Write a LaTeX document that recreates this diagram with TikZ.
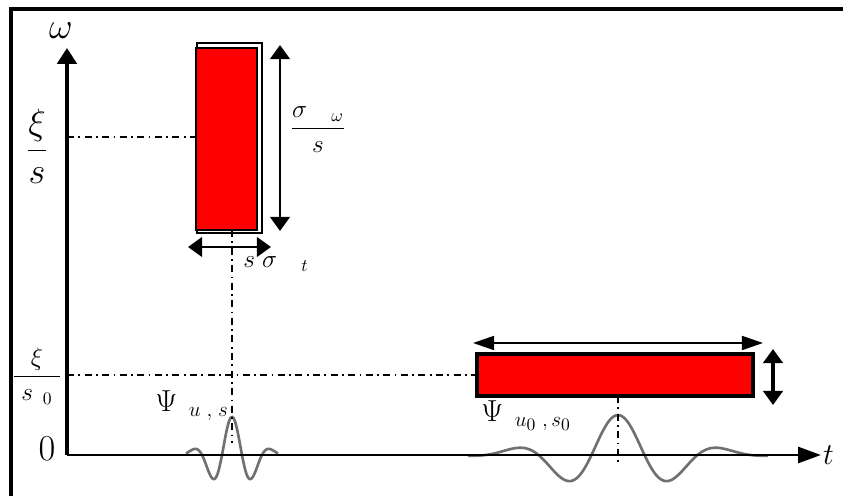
\documentclass[tikz,border=0pt]{standalone}
\usetikzlibrary{arrows.meta}
\begin{document}
\begin{tikzpicture}[x=0.02cm, y=-0.02cm,
    axis/.style={line width=2pt, -{Triangle[length=9pt, width=11pt]}},
    spread/.style={line width=1.7pt, {Triangle[length=8pt, width=11pt]}-{Triangle[length=8pt, width=11pt]}},
    dashdot/.style={line width=1.2pt, dash pattern=on 4pt off 2.5pt on 1pt off 2.5pt},
    redbox/.style={draw=borderColour, fill=boxColour, line width=1.4pt, inner sep=0pt, outer sep=0pt},
    wave/.style={waveColour, line width=1.5pt, smooth, samples=120}]
    % Define colours
    \definecolor{borderColour}{HTML}{000000}
    \definecolor{boxColour}{HTML}{FF0000}
    \definecolor{waveColour}{HTML}{707070}

    % Fix page size
    \useasboundingbox (0,0) rectangle (843,496);

    % Draw frame
    \draw[line width=2pt] (843,9) -- (11,9) -- (11,496);

    % Draw wavelets
    \draw[wave, domain=-46:46] plot ({232+\x}, {455-38*exp(-(\x*\x)/800)*cos(9*\x)});
    \draw[wave, domain=-150:150] plot ({618+\x}, {455-40*exp(-(\x/10)*(\x/10)/60.5)*cos(3.396*\x)});

    % Define coordinates for axes
    \coordinate (O) at (67,455);
    \coordinate (W) at (67,48);
    \coordinate (T) at (821,455);

    % Draw axes
    \draw[axis] (O) -- (W);
    \draw[line width=1.7pt, -{Triangle[length=13pt, width=9pt]}] (O) -- (T);
    \node (omega) at (61,31) {\huge$\omega$};
    \node[anchor=west, inner sep=1pt] (tlab) at (T) {\LARGE$t$};
    \node (zero) at (47,449) {\huge$0$};

    % Draw boxes
    \draw[line width=1.4pt, fill=white] (197,43) rectangle (262,233);
    \node[redbox, minimum width=1.22cm, minimum height=3.64cm] (tall) at (226.5,139) {};
    \node[redbox, line width=1.8pt, minimum width=5.52cm, minimum height=0.84cm] (wide) at (615,375) {};

    % Draw dash-dot guides
    \coordinate (xiTick) at (67,137);
    \coordinate (xiTickO) at (67,375);
    \coordinate (uS) at (232,443);
    \coordinate (uO) at (618,462);
    \draw[dashdot] (xiTick) -- (xiTick -| tall.west);
    \draw[dashdot] (xiTickO) -- (wide.west);
    \draw[dashdot] (uS |- tall.south) -- (uS);
    \draw[dashdot] (uO |- wide.south) -- (uO);

    % Draw spread arrows
    \coordinate (sigW1) at (280,45);
    \coordinate (sigW2) at (280,231);
    \coordinate (sigT1) at (188,247);
    \coordinate (sigT2) at (271,247);
    \coordinate (wideL) at (473,343);
    \coordinate (wideR) at (763,343);
    \coordinate (wideU) at (773,349);
    \coordinate (wideD) at (773,405);
    \draw[spread] (sigW1) -- (sigW2);
    \draw[spread] (sigT1) -- (sigT2);
    \draw[line width=1pt, {Triangle[length=12pt, width=8pt]}-{Triangle[length=12pt, width=8pt]}] (wideL) -- (wideR);
    \draw[spread, line width=1.9pt] (wideU) -- (wideD);

    % Label frequencies and spreads
    \node[anchor=base] (xiS) at (37,159) {\huge$\displaystyle\frac{\xi}{s}$};
    \node[anchor=base] (xiSO) at (37,383) {\Large$\displaystyle\frac{\xi}{\;s_{\;\;0}\;}$};
    \node[anchor=base] (sigWlab) at (318,135) {\Large$\displaystyle\frac{\sigma_{\quad\omega}}{s}$};
    \node[anchor=base west, inner sep=0pt] (sigTlab) at (243,268) {\Large$s\;\sigma_{\quad t}$};
    \node[anchor=base west, inner sep=0pt] (psiS) at (155,412) {\LARGE$\Psi_{\;\;u\;,\;s}$};
    \node[anchor=base west, inner sep=0pt] (psiO) at (481,422) {\LARGE$\Psi_{\;\;u_0\;,\,s_0}$};
\end{tikzpicture}
\end{document}
